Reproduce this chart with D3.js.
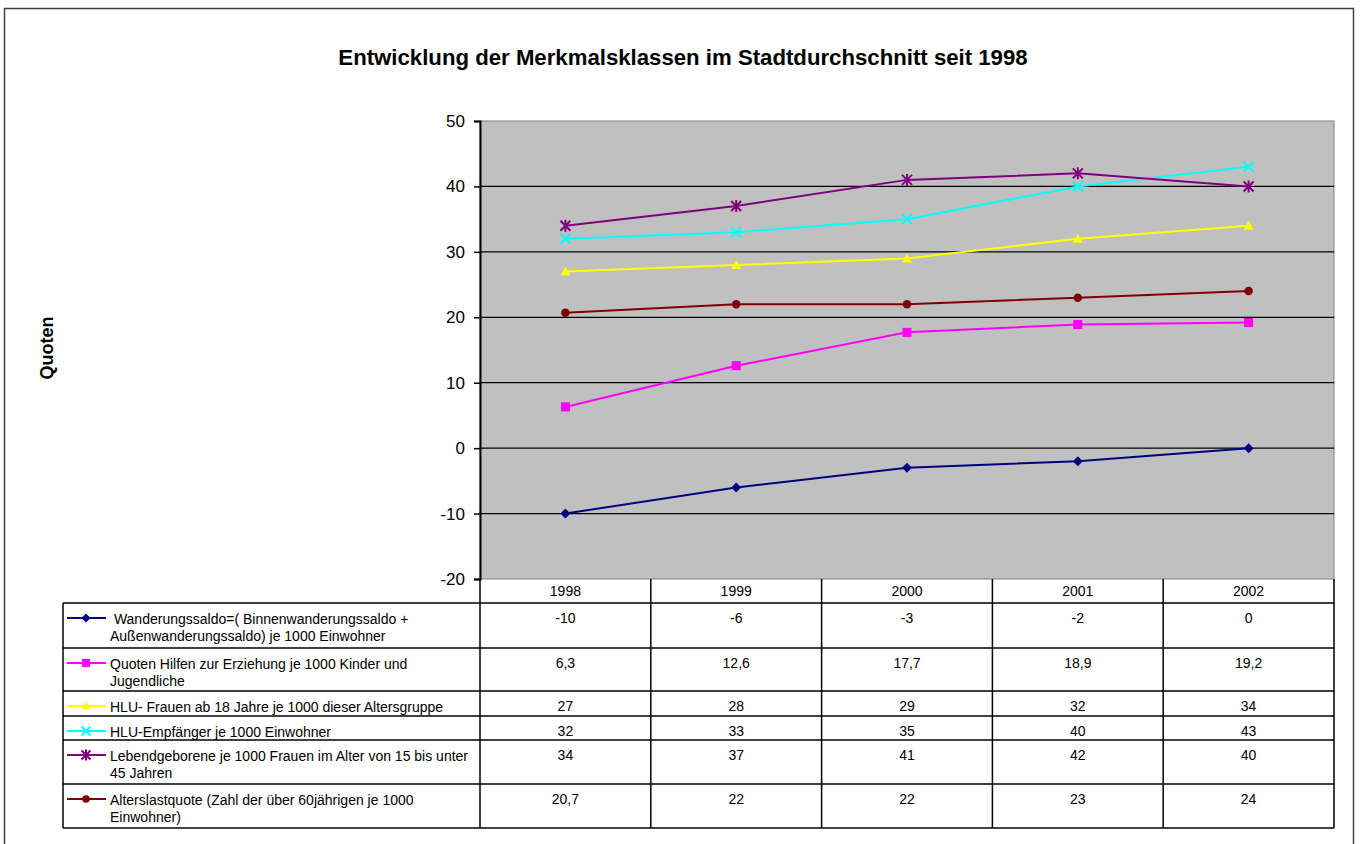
<!DOCTYPE html>
<html><head><meta charset="utf-8">
<script src="https://cdn.jsdelivr.net/npm/d3@7"></script>
<style>body{margin:0;background:#fff}svg{display:block;font-family:"Liberation Sans",Arial,sans-serif}</style>
</head><body><svg id="c" width="1362" height="844"></svg>
<script>
const years = ["1998","1999","2000","2001","2002"];
const seriesNames = [
  " Wanderungssaldo=( Binnenwanderungssaldo + Außenwanderungssaldo) je 1000 Einwohner",
  "Quoten Hilfen zur Erziehung je 1000 Kinder und Jugendliche",
  "HLU- Frauen ab 18 Jahre je 1000 dieser Altersgruppe",
  "HLU-Empfänger je 1000 Einwohner",
  "Lebendgeborene je 1000 Frauen im Alter von 15 bis unter 45 Jahren",
  "Alterslastquote (Zahl der über 60jährigen je 1000 Einwohner)"
];
const wanderung = [-10, -6, -3, -2, 0];
const hilfen = [6.3, 12.6, 17.7, 18.9, 19.2];
const hluFrauen = [27, 28, 29, 32, 34];
const hluEmpf = [32, 33, 35, 40, 43];
const lebendgeb = [34, 37, 41, 42, 40];
const alterslast = [20.7, 22, 22, 23, 24];
const seriesColors = ["#000080", "#FF00FF", "#FFFF00", "#00FFFF", "#800080", "#800000"];
const seriesMarkers = ["diamond", "square", "triangle", "x", "asterisk", "circle"];
const yTicks = [-20, -10, 0, 10, 20, 30, 40, 50];
const title = "Entwicklung der Merkmalsklassen im Stadtdurchschnitt seit 1998";
const yTitle = "Quoten";

const seriesValues = [wanderung, hilfen, hluFrauen, hluEmpf, lebendgeb, alterslast];
const svg = d3.select("#c");

svg.append("rect").attr("x", 4.5).attr("y", 8.5).attr("width", 1349).attr("height", 845)
  .attr("fill", "#fff").attr("stroke", "#404040").attr("stroke-width", 1.5);

svg.append("text").attr("x", 683).attr("y", 65).attr("text-anchor", "middle")
  .attr("font-size", 22.2).attr("font-weight", "bold").text(title);

const L = 480, R = 1334, T = 121, B = 579;
const x = d3.scaleBand().domain(years).range([L, R]);
const y = d3.scaleLinear().domain([-20, 50]).range([B, T]);

svg.append("rect").attr("x", L).attr("y", T).attr("width", R - L).attr("height", B - T)
  .attr("fill", "#C0C0C0").attr("stroke", "#808080").attr("stroke-width", 1);

svg.append("g").selectAll("line").data(yTicks.filter(v => v > -20 && v < 50)).join("line")
  .attr("x1", L).attr("x2", R).attr("y1", d => y(d)).attr("y2", d => y(d))
  .attr("stroke", "#000").attr("stroke-width", 1.2);

const ya = svg.append("g").attr("transform", `translate(${L},0)`)
  .call(d3.axisLeft(y).tickValues(yTicks).tickSize(6).tickPadding(9).tickFormat(d => String(d)));
ya.select(".domain").attr("stroke", "#000").attr("stroke-width", 2);
ya.selectAll(".tick line").attr("stroke", "#000").attr("stroke-width", 1.5);
ya.selectAll("text").attr("font-size", 17).attr("font-family", "Liberation Sans, Arial, sans-serif").attr("fill", "#000");

svg.append("text").attr("transform", "translate(53,348) rotate(-90)").attr("text-anchor", "middle")
  .attr("font-size", 18).attr("font-weight", "bold").text(yTitle);

function marker(g, type, color, size) {
  const s = size;
  if (type === "diamond") g.append("path").attr("d", `M0,${-s}L${s},0L0,${s}L${-s},0Z`).attr("fill", color);
  else if (type === "square") g.append("rect").attr("x", -s*0.8).attr("y", -s*0.8).attr("width", s*1.6).attr("height", s*1.6).attr("fill", color).attr("stroke", color).attr("stroke-width", 1);
  else if (type === "triangle") g.append("path").attr("d", `M0,${-s}L${s},${s*0.8}L${-s},${s*0.8}Z`).attr("fill", color);
  else if (type === "circle") g.append("circle").attr("r", s*0.85).attr("fill", color);
  else if (type === "x") g.append("path").attr("d", `M${-s},${-s}L${s},${s}M${-s},${s}L${s},${-s}`).attr("stroke", color).attr("stroke-width", 2);
  else if (type === "asterisk") g.append("path").attr("d", `M${-s},${-s}L${s},${s}M${-s},${s}L${s},${-s}M0,${-s-1}L0,${s+1}`).attr("stroke", color).attr("stroke-width", 2);
}

const line = d3.line().x((d, i) => x(years[i]) + x.bandwidth() / 2).y(d => y(d));
seriesValues.forEach((vals, si) => {
  svg.append("path").datum(vals).attr("d", line).attr("fill", "none")
    .attr("stroke", seriesColors[si]).attr("stroke-width", 2);
});
seriesValues.forEach((vals, si) => {
  vals.forEach((v, i) => {
    const g = svg.append("g").attr("transform", `translate(${x(years[i]) + x.bandwidth() / 2},${y(v)})`);
    marker(g, seriesMarkers[si], seriesColors[si], 5);
  });
});

const rowBounds = [603, 648, 691, 716, 740, 784, 828];
const tableLeft = 63;
const tg = svg.append("g");
years.forEach(yr => {
  tg.append("text").attr("x", x(yr) + x.bandwidth() / 2).attr("y", 596).attr("text-anchor", "middle")
    .attr("font-size", 14).text(yr);
});
rowBounds.forEach(rb => {
  tg.append("line").attr("x1", tableLeft).attr("x2", R).attr("y1", rb).attr("y2", rb)
    .attr("stroke", "#000").attr("stroke-width", 1.5);
});
x.domain().forEach(yr => {
  tg.append("line").attr("x1", x(yr)).attr("x2", x(yr)).attr("y1", B).attr("y2", rowBounds[6])
    .attr("stroke", "#000").attr("stroke-width", 1.5);
});
tg.append("line").attr("x1", R).attr("x2", R).attr("y1", B).attr("y2", rowBounds[6]).attr("stroke", "#000").attr("stroke-width", 1.5);
tg.append("line").attr("x1", tableLeft).attr("x2", tableLeft).attr("y1", rowBounds[0]).attr("y2", rowBounds[6]).attr("stroke", "#000").attr("stroke-width", 1.5);

const fmt = v => String(v).replace(".", ",");
seriesNames.forEach((name, si) => {
  const top = rowBounds[si];
  tg.append("line").attr("x1", 67).attr("x2", 106).attr("y1", top + 15).attr("y2", top + 15)
    .attr("stroke", seriesColors[si]).attr("stroke-width", 2);
  marker(tg.append("g").attr("transform", `translate(86,${top + 15})`), seriesMarkers[si], seriesColors[si], 4.5);
  const t = tg.append("text").attr("x", 110).attr("y", top + 21).attr("font-size", 14).style("white-space", "pre");
  const words = name.split(" ");
  let lineWords = [];
  let tspan = t.append("tspan").attr("x", 110).attr("dy", 0);
  words.forEach(w => {
    lineWords.push(w);
    tspan.text(lineWords.join(" "));
    if (tspan.node().getComputedTextLength() > 366 && lineWords.length > 1) {
      lineWords.pop();
      tspan.text(lineWords.join(" "));
      lineWords = [w];
      tspan = t.append("tspan").attr("x", 110).attr("dy", 17).text(w);
    }
  });
  seriesValues[si].forEach((v, i) => {
    tg.append("text").attr("x", x(years[i]) + x.bandwidth() / 2).attr("y", top + 20)
      .attr("text-anchor", "middle").attr("font-size", 14).text(fmt(v));
  });
});
</script></body></html>
